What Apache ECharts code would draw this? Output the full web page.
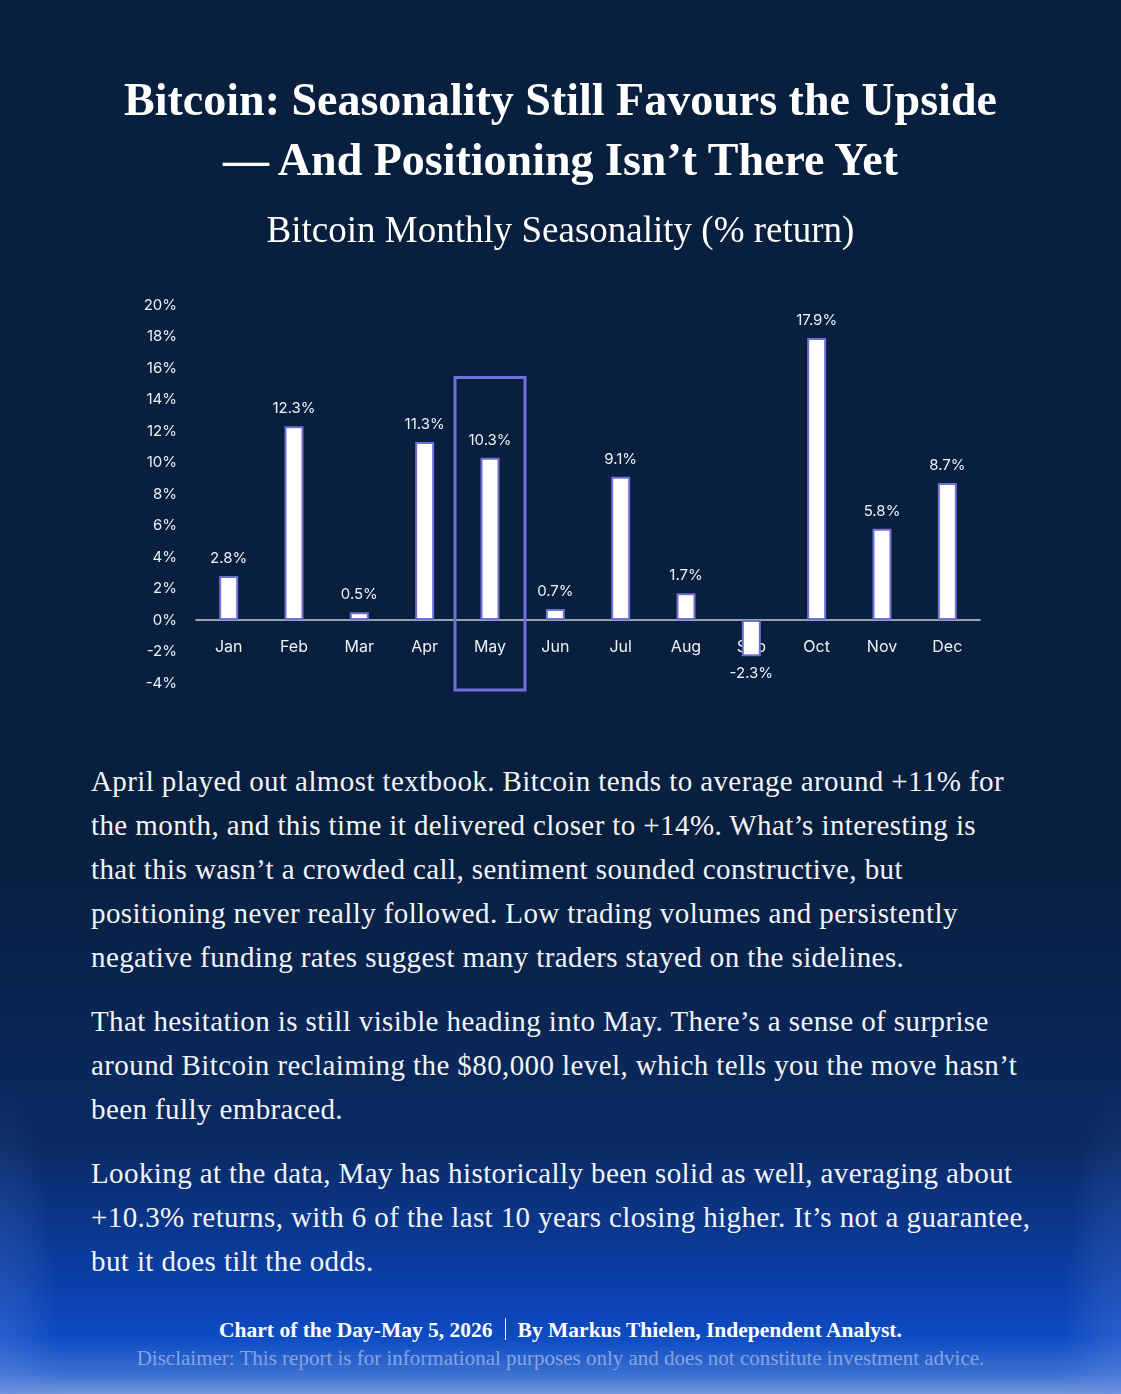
<!DOCTYPE html>
<html>
<head>
<meta charset="utf-8">
<script src="https://cdn.jsdelivr.net/npm/echarts@6/dist/echarts.min.js"></script>
<style>
  html, body { margin: 0; padding: 0; }
  body {
    width: 1121px; height: 1394px; overflow: hidden; position: relative;
    background:
      radial-gradient(ellipse 60px 320px at 0px 1394px, rgba(100,140,225,0.35), rgba(100,140,225,0)),
      radial-gradient(ellipse 60px 320px at 1121px 1394px, rgba(100,140,225,0.35), rgba(100,140,225,0)),
      linear-gradient(to bottom, #081f3e 0%, #081f3e 60%, #0a2a62 82%, #0b3fa8 92%, #0d4cc4 96%, #3a6fd0 98.5%, #6f97dc 100%);
    color: #fff;
    font-family: "Liberation Serif", serif;
  }
  #chart { position: absolute; left: 0; top: 0; width: 1121px; height: 720px; }
  .title {
    position: absolute; left: 0; width: 1121px; top: 70px; text-align: center;
    font-size: 46px; line-height: 60px; font-weight: 600; color: #fff;
  }
  .subtitle {
    position: absolute; left: 0; width: 1121px; top: 207px; text-align: center;
    font-size: 37px; line-height: 46px; color: #fff;
  }
  .body {
    position: absolute; left: 91px; top: 759px; width: 1000px;
    font-size: 29px; line-height: 44px; letter-spacing: 0.4px; color: #f2f4f8;
  }
  .body p { margin: 0 0 20px 0; white-space: nowrap; }
  .foot {
    position: absolute; left: 0; width: 1121px; top: 1316px; text-align: center;
    font-size: 21.5px; line-height: 28px; font-weight: 600; color: #fff;
  }
  .foot .sep { display: inline-block; width: 1px; height: 22px; background: #fff; vertical-align: -3px; margin: 0 12px; }
  .disc {
    position: absolute; left: 0; width: 1121px; top: 1345px; text-align: center;
    font-size: 21px; line-height: 26px; color: #86a3e2;
  }
</style>
</head>
<body>
<div id="chart"></div>
<div class="title">Bitcoin: Seasonality Still Favours the Upside<br>— And Positioning Isn’t There Yet</div>
<div class="subtitle">Bitcoin Monthly Seasonality (% return)</div>
<div class="body">
  <p>April played out almost textbook. Bitcoin tends to average around +11% for<br>the month, and this time it delivered closer to +14%. What’s interesting is<br>that this wasn’t a crowded call, sentiment sounded constructive, but<br>positioning never really followed. Low trading volumes and persistently<br>negative funding rates suggest many traders stayed on the sidelines.</p>
  <p>That hesitation is still visible heading into May. There’s a sense of surprise<br>around Bitcoin reclaiming the $80,000 level, which tells you the move hasn’t<br>been fully embraced.</p>
  <p>Looking at the data, May has historically been solid as well, averaging about<br>+10.3% returns, with 6 of the last 10 years closing higher. It’s not a guarantee,<br>but it does tilt the odds.</p>
</div>
<div class="foot">Chart of the Day-May 5, 2026<span class="sep"></span>By Markus Thielen, Independent Analyst.</div>
<div class="disc">Disclaimer: This report is for informational purposes only and does not constitute investment advice.</div>
<script>
var months = ['Jan', 'Feb', 'Mar', 'Apr', 'May', 'Jun', 'Jul', 'Aug', 'Sep', 'Oct', 'Nov', 'Dec'];
var returns = [2.8, 12.3, 0.5, 11.3, 10.3, 0.7, 9.1, 1.7, -2.3, 17.9, 5.8, 8.7];
var highlightMonth = 'May';
var highlightTop = 15.4;     // top of the highlight box, in % units
var highlightBottom = -4.45; // bottom of the highlight box, in % units

var chart = echarts.init(document.getElementById('chart'));
var labelFont = 'Inter, "Open Sans", sans-serif';

var option = {
  backgroundColor: 'transparent',
  animation: false,
  grid: { left: 196, right: 141, top: 305, bottom: 37, containLabel: false },
  xAxis: {
    type: 'category',
    data: months,
    position: 'bottom',
    offset: -63,   // sit the category axis on the 0% line
    axisLine: { onZero: false, lineStyle: { color: '#c9cedb', width: 1.5 } },
    axisTick: { show: false },
    axisLabel: { color: '#eef1f7', fontSize: 16, fontFamily: labelFont, margin: 19 }
  },
  yAxis: {
    type: 'value',
    min: -4,
    max: 20,
    interval: 2,
    splitLine: { show: false },
    axisLine: { show: false },
    axisTick: { show: false },
    axisLabel: {
      color: '#eef1f7', fontSize: 15, fontFamily: labelFont, margin: 19,
      formatter: function (v) { return v + '%'; }
    }
  },
  series: [{
    type: 'bar',
    data: returns,
    barWidth: 19,
    z: 5,
    itemStyle: { color: '#ffffff', borderColor: '#6f6fd6', borderWidth: 2 },
    label: {
      show: true,
      position: 'outside',
      distance: 10,
      color: '#eef1f7',
      fontSize: 15,
      fontFamily: labelFont,
      formatter: function (p) { return p.value + '%'; }
    }
  }]
};
chart.setOption(option);

// highlight box around May, placed through the axis scales
var cx = chart.convertToPixel({ xAxisIndex: 0 }, highlightMonth);
var yTop = chart.convertToPixel({ yAxisIndex: 0 }, highlightTop);
var yBot = chart.convertToPixel({ yAxisIndex: 0 }, highlightBottom);
chart.setOption({
  graphic: [{
    type: 'rect',
    z: 10,
    shape: { x: cx - 35, y: yTop, width: 70, height: yBot - yTop },
    style: { fill: 'none', stroke: '#7070dc', lineWidth: 3 }
  }]
});
</script>
</body>
</html>
